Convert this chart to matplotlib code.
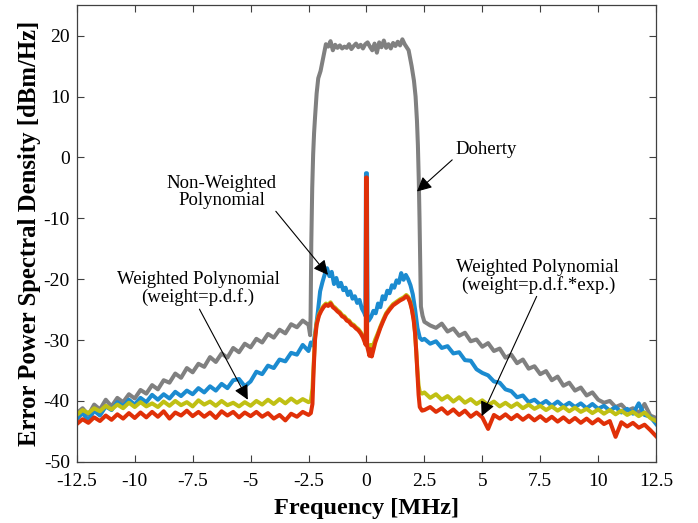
import numpy as np
import matplotlib
matplotlib.use("Agg")
import matplotlib.pyplot as plt

plt.rcParams['font.family'] = ['Liberation Serif', 'DejaVu Serif']
plt.rcParams['axes.unicode_minus'] = False

# ---------------- data ----------------
# common flank grids [MHz]
freq_left = np.arange(-12.5, -2.49, 0.25)
freq_right = np.arange(2.5, 12.51, 0.25)

# Doherty (grey)
doherty_left = [-42.0, -41.2, -42.3, -40.6, -41.4, -39.8, -40.9, -39.5, -40.2, -38.9,
                -39.6, -38.2, -38.8, -37.4, -38.1, -36.6, -37.0, -35.5, -36.2, -34.6,
                -35.3, -33.9, -34.4, -32.8, -33.6, -32.2, -32.9, -31.3, -32.0, -30.6,
                -31.2, -29.8, -30.4, -29.0, -29.6, -28.3, -28.9, -27.4, -27.9, -26.8, -27.5]
doherty_mid_f = [-2.43, -2.41, -2.38, -2.34, -2.30, -2.26, -2.22, -2.15, -2.08, -1.98,
                 -1.87, -1.75, -1.65, -1.55, -1.45, -1.35, -1.25, -1.15, -1.05, -0.95,
                 -0.85, -0.75, -0.65, -0.55, -0.45, -0.35, -0.25, -0.15, -0.05, 0.05,
                 0.15, 0.25, 0.35, 0.45, 0.55, 0.65, 0.75, 0.85, 0.95, 1.05,
                 1.15, 1.25, 1.35, 1.45, 1.55, 1.65, 1.75, 1.82, 1.95, 2.05,
                 2.12, 2.18, 2.22, 2.26, 2.29, 2.32, 2.35, 2.42]
doherty_mid = [-29.2, -26.0, -14.0, -5.0, 0.5, 4.0, 6.5, 10.5, 13.0, 14.2,
               16.3, 18.6, 18.2, 19.1, 17.6, 18.5, 18.0, 18.4, 17.9, 18.2,
               18.0, 18.6, 17.8, 18.3, 18.7, 18.1, 18.5, 17.9, 18.6, 18.9,
               18.2, 17.6, 18.7, 17.2, 18.9, 18.1, 19.2, 18.0, 18.6, 17.9,
               18.8, 18.3, 19.0, 18.4, 19.4, 18.6, 18.0, 17.6, 15.0, 12.6,
               10.0, 6.0, 2.0, -4.0, -10.0, -17.0, -24.5, -26.0]
doherty_right = [-27.0, -27.6, -28.0, -27.3, -28.6, -28.1, -29.3, -28.8, -30.2, -29.9,
                 -31.1, -30.5, -31.8, -31.4, -32.9, -32.4, -33.8, -33.2, -34.7, -34.3,
                 -35.6, -35.1, -36.6, -36.0, -37.5, -37.0, -38.3, -37.8, -39.1, -38.6,
                 -39.8, -40.3, -40.0, -41.0, -40.6, -41.6, -41.2, -42.0, -40.5, -42.4, -42.8]

# Non-weighted polynomial (blue)
nonw_left = [-43.0, -42.0, -43.2, -41.6, -42.4, -40.9, -41.5, -40.2, -40.9, -39.8,
             -40.6, -39.5, -40.2, -39.0, -39.8, -38.9, -39.6, -38.5, -39.2, -38.3,
             -38.9, -37.9, -38.6, -37.6, -38.3, -37.2, -37.9, -36.6, -36.4, -37.6,
             -36.8, -35.2, -35.6, -34.2, -34.6, -33.2, -33.5, -32.1, -32.4, -30.8, -31.8]
nonw_mid_f = [-2.4, -2.3, -2.2, -2.1, -2.0, -1.9, -1.8, -1.7, -1.6, -1.5,
              -1.4, -1.3, -1.2, -1.1, -1.0, -0.9, -0.8, -0.7, -0.6, -0.5,
              -0.4, -0.3, -0.2, -0.1, -0.05, -0.02, 0.02, 0.05, 0.1, 0.2,
              0.3, 0.4, 0.5, 0.6, 0.7, 0.8, 0.9, 1.0, 1.1, 1.2,
              1.3, 1.4, 1.5, 1.6, 1.7, 1.8, 1.9, 2.0, 2.1, 2.2,
              2.3, 2.4]
nonw_mid = [-30.4, -30.9, -28.5, -25.5, -22.0, -20.5, -19.2, -18.2, -19.5, -18.8,
            -20.8, -19.8, -21.2, -20.6, -21.8, -21.4, -22.6, -22.0, -23.2, -22.8,
            -23.9, -23.4, -24.8, -25.5, -26.0, -2.6, -2.6, -26.5, -26.8, -26.2,
            -25.2, -25.6, -24.0, -24.6, -22.8, -23.3, -21.9, -22.3, -21.0, -21.4,
            -20.2, -20.6, -19.0, -20.1, -19.3, -20.0, -21.0, -22.5, -25.0, -28.0,
            -29.6, -30.0]
nonw_right = [-29.8, -30.6, -30.2, -31.3, -31.0, -32.2, -32.0, -33.3, -33.4, -34.8,
              -35.4, -35.8, -36.8, -37.0, -38.1, -38.4, -39.4, -39.1, -40.2, -39.8,
              -40.6, -40.0, -40.8, -40.1, -40.9, -40.3, -41.0, -40.4, -41.2, -40.5,
              -41.3, -40.8, -41.6, -41.0, -41.9, -41.3, -42.1, -40.4, -42.3, -42.6, -43.8]

# Weighted polynomial, weight = p.d.f. (yellow)
pdf_left = [-42.3, -41.5, -42.0, -41.2, -41.7, -40.8, -41.4, -40.6, -41.2, -40.3,
            -41.0, -40.2, -40.9, -40.4, -41.0, -40.1, -40.8, -40.0, -40.7, -40.2,
            -40.9, -39.9, -40.6, -40.1, -40.8, -40.0, -40.7, -40.3, -40.9, -40.2,
            -40.8, -40.0, -40.6, -39.8, -40.5, -39.7, -40.4, -39.6, -40.3, -39.7, -40.2]
pdf_mid_f = [-2.4, -2.33, -2.28, -2.22, -2.15, -2.05, -1.95, -1.85, -1.75, -1.65,
             -1.55, -1.45, -1.35, -1.25, -1.15, -1.05, -0.95, -0.85, -0.75, -0.65,
             -0.55, -0.45, -0.35, -0.25, -0.15, -0.08, 0.0, 0.08, 0.13, 0.18,
             0.23, 0.3, 0.38, 0.48, 0.6, 0.72, 0.85, 1.0, 1.15, 1.3,
             1.45, 1.6, 1.72, 1.8, 1.88, 1.96, 2.04, 2.1, 2.15, 2.2,
             2.25, 2.3, 2.4]
pdf_mid = [-40.0, -38.0, -34.0, -29.5, -27.2, -25.8, -25.0, -24.4, -24.0, -24.2,
           -23.8, -24.4, -24.7, -25.1, -25.4, -25.9, -26.1, -26.6, -26.8, -27.3,
           -27.5, -27.9, -28.2, -28.7, -29.3, -30.0, -30.5, -31.0, -31.3, -30.8,
           -31.4, -30.8, -29.9, -29.0, -27.8, -26.7, -25.6, -24.8, -24.1, -23.7,
           -23.3, -23.0, -22.6, -22.9, -23.6, -24.8, -26.6, -28.8, -31.8, -35.0,
           -37.5, -38.5, -38.8]
pdf_right = [-38.6, -39.5, -38.9, -39.8, -39.2, -40.1, -39.4, -40.3, -39.7, -40.5,
             -39.9, -40.7, -40.1, -40.9, -40.3, -41.0, -40.4, -41.2, -40.6, -41.3,
             -40.8, -41.5, -40.9, -41.6, -41.0, -41.7, -41.1, -41.8, -41.3, -42.0,
             -41.4, -42.1, -41.5, -42.2, -41.6, -42.3, -41.8, -42.5, -41.9, -42.8, -43.3]

# Weighted polynomial, weight = p.d.f.*exp. (red)
exp_left = [-43.8, -43.0, -43.6, -42.7, -43.3, -42.4, -43.1, -42.2, -42.9, -42.0,
            -42.8, -41.9, -42.7, -41.8, -42.6, -41.7, -42.9, -41.9, -42.4, -41.6,
            -42.5, -41.8, -42.6, -41.9, -42.8, -41.7, -42.4, -41.8, -42.7, -41.9,
            -42.5, -41.8, -42.6, -42.0, -42.9, -42.3, -43.2, -42.1, -42.6, -41.8, -42.3]
exp_mid_f = [-2.4, -2.33, -2.28, -2.22, -2.15, -2.05, -1.95, -1.85, -1.75, -1.65,
             -1.55, -1.45, -1.35, -1.25, -1.15, -1.05, -0.95, -0.85, -0.75, -0.65,
             -0.55, -0.45, -0.35, -0.25, -0.15, -0.08, -0.03, -0.015, 0.015, 0.03,
             0.08, 0.13, 0.18, 0.23, 0.3, 0.38, 0.48, 0.6, 0.72, 0.85,
             1.0, 1.15, 1.3, 1.45, 1.6, 1.72, 1.8, 1.88, 1.96, 2.04,
             2.1, 2.15, 2.2, 2.25, 2.3, 2.4]
exp_mid = [-42.0, -40.5, -35.0, -30.0, -27.5, -26.0, -25.2, -24.6, -24.2, -24.4,
           -24.0, -24.6, -24.9, -25.3, -25.6, -26.1, -26.3, -26.8, -27.0, -27.5,
           -27.7, -28.1, -28.4, -28.9, -29.6, -30.3, -30.8, -3.3, -3.3, -31.0,
           -31.8, -32.6, -31.5, -32.7, -31.6, -30.4, -29.3, -28.0, -26.9, -25.8,
           -25.0, -24.3, -23.9, -23.5, -23.2, -22.8, -23.1, -23.8, -25.0, -26.8,
           -29.0, -32.0, -35.5, -39.0, -41.0, -41.6]
exp_right = [-41.5, -41.0, -41.8, -41.2, -42.1, -41.4, -42.3, -41.6, -42.6, -41.9,
             -42.7, -44.6, -42.3, -42.9, -42.2, -43.0, -42.3, -43.1, -42.4, -43.2,
             -42.5, -43.3, -42.6, -43.4, -42.7, -43.5, -42.8, -43.6, -42.9, -43.7,
             -43.0, -43.8, -43.3, -45.9, -43.5, -44.2, -43.6, -44.4, -43.9, -44.8, -45.8]

x_ticks = [-12.5, -10, -7.5, -5, -2.5, 0, 2.5, 5, 7.5, 10, 12.5]
x_ticklabels = ['-12.5', '-10', '-7.5', '-5', '-2.5', '0', '2.5', '5', '7.5', '10', '12.5']
y_ticks = [-50, -40, -30, -20, -10, 0, 10, 20]

# ---------------- figure ----------------
fig = plt.figure(figsize=(6.98, 5.23), dpi=100)
ax = fig.add_axes([0.110, 0.117, 0.830, 0.873])

lw = 2.9
series = [
    (doherty_left, doherty_mid_f, doherty_mid, doherty_right, '#808080'),
    (nonw_left, nonw_mid_f, nonw_mid, nonw_right, '#1b8bd0'),
    (pdf_left, pdf_mid_f, pdf_mid, pdf_right, '#c0c014'),
    (exp_left, exp_mid_f, exp_mid, exp_right, '#e03008'),
]
for left, mid_f, mid, right, col in series:
    f = np.concatenate([freq_left, mid_f, freq_right])
    v = np.concatenate([left, mid, right])
    ax.plot(f, v, color=col, lw=lw, solid_joinstyle='round')

ax.set_xlim(-12.5, 12.5)
ax.set_ylim(-50, 25)
ax.set_xticks(x_ticks)
ax.set_xticklabels(x_ticklabels)
ax.set_yticks(y_ticks)
ax.tick_params(direction='in', top=True, right=True, length=5, width=0.8,
               labelsize=14, color='#404040')
ax.tick_params(axis='x', pad=8)
ax.tick_params(axis='y', pad=5)
for sp in ax.spines.values():
    sp.set_color('#404040')
    sp.set_linewidth(0.9)

ax.set_xlabel('Frequency [MHz]', fontsize=17.5, fontweight='bold', labelpad=6)
ax.set_ylabel('Error Power Spectral Density [dBm/Hz]', fontsize=17.8, fontweight='bold', labelpad=2)

ap = dict(arrowstyle='-|>', color='black', lw=0.8, mutation_scale=22,
          shrinkA=0, shrinkB=0)
fs = 13.5
ax.annotate('Doherty', xy=(2.18, -5.6), xytext=(3.82, 1.3), fontsize=fs,
            ha='left', va='center', arrowprops=dict(ap, relpos=(0.05, 0.2)))
ax.annotate('Non-Weighted\nPolynomial', xy=(-1.66, -19.3), xytext=(-6.24, -5.6),
            fontsize=fs, ha='center', va='center', linespacing=1.0,
            arrowprops=dict(ap, relpos=(0.97, 0.0)))
ax.annotate('Weighted Polynomial\n(weight=p.d.f.)', xy=(-5.12, -39.8),
            xytext=(-7.27, -21.6), fontsize=fs, ha='center', va='center',
            linespacing=1.0, arrowprops=dict(ap, relpos=(0.5, 0.0)))
ax.annotate('Weighted Polynomial\n(weight=p.d.f.*exp.)', xy=(4.97, -42.5),
            xytext=(7.4, -19.5), fontsize=fs, ha='center', va='center',
            linespacing=1.0, arrowprops=dict(ap, relpos=(0.5, 0.0)))

fig.savefig('out.png', dpi=100)
